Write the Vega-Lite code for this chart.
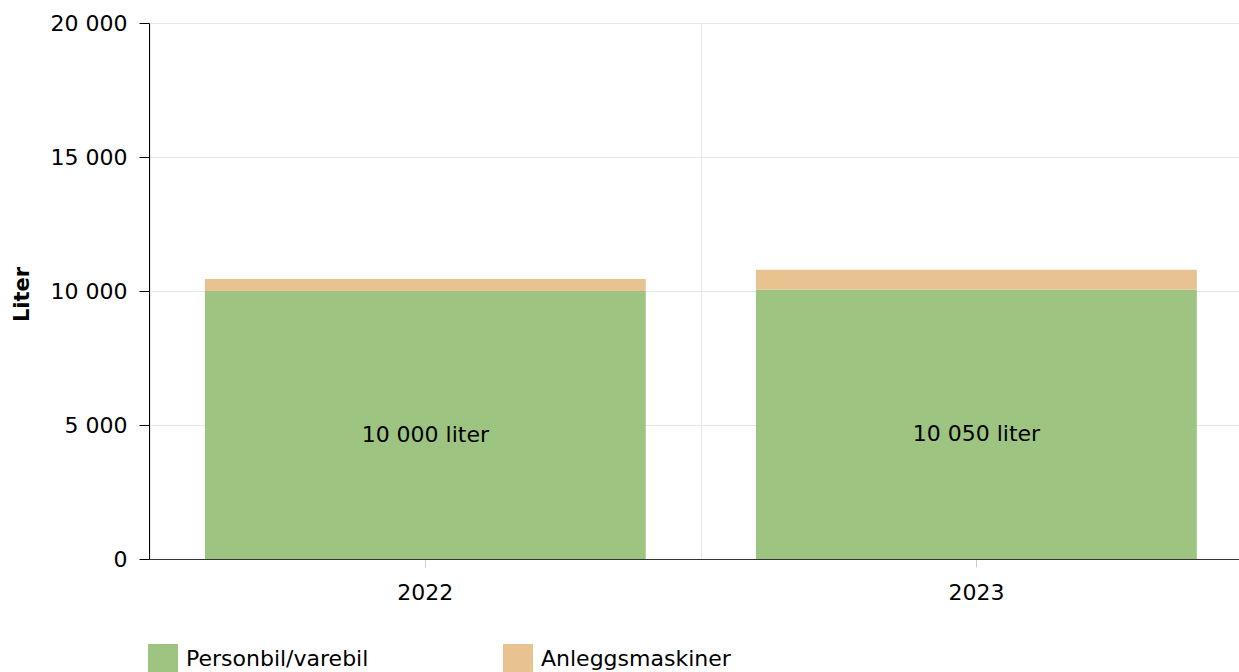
{
  "$schema": "https://vega.github.io/schema/vega-lite/v6.json",
  "width": 1090,
  "height": 536,
  "autosize": {"type": "none"},
  "padding": {"left": 149, "top": 23, "right": 0, "bottom": 113},
  "background": "white",
  "config": {
    "view": {"stroke": null},
    "font": "DejaVu Sans",
    "axis": {"labelFont": "DejaVu Sans", "titleFont": "DejaVu Sans", "labelFontSize": 22, "labelColor": "#000000"}
  },
  "data": {
    "values": [
      {"year": "2022", "category": "Personbil/varebil", "value": 10000},
      {"year": "2022", "category": "Anleggsmaskiner", "value": 450},
      {"year": "2023", "category": "Personbil/varebil", "value": 10050},
      {"year": "2023", "category": "Anleggsmaskiner", "value": 740}
    ]
  },
  "resolve": {"axis": {"x": "independent"}},
  "layer": [
    {
      "mark": {"type": "bar", "opacity": 0.9},
      "encoding": {
        "x": {
          "field": "year", "type": "nominal",
          "scale": {"paddingInner": 0.2, "paddingOuter": 0.089, "align": 0.57},
          "axis": {"title": null, "labelAngle": 0, "grid": false, "domainColor": "#333333", "tickColor": "#cccccc", "tickSize": 8, "labelPadding": 15, "labelFontSize": 22}
        },
        "y": {
          "field": "value", "type": "quantitative", "stack": "zero",
          "scale": {"domain": [0, 20000], "nice": false},
          "axis": {
            "values": [0, 5000, 10000, 15000, 20000],
            "labelExpr": "replace(format(datum.value, ','), ',', ' ')",
            "title": "Liter", "titleFontSize": 21, "titleFontWeight": "bold",
            "titleAngle": 270, "titleX": -127, "titleY": 271, "titleAlign": "center", "titleBaseline": "middle",
            "domainColor": "#000000", "tickColor": "#000000", "tickSize": 10, "labelPadding": 12,
            "gridColor": "#e6e6e6", "labelFontSize": 22
          }
        },
        "color": {
          "field": "category", "type": "nominal",
          "scale": {"domain": ["Personbil/varebil", "Anleggsmaskiner"], "range": ["#92be72", "#e6bd83"]},
          "legend": {
            "title": null, "orient": "none", "legendX": -1, "legendY": 621, "direction": "horizontal",
            "symbolType": "square", "symbolSize": 900, "symbolOpacity": 0.9, "symbolStrokeWidth": 0,
            "labelFontSize": 22, "labelFont": "DejaVu Sans", "labelColor": "#000000", "labelOffset": 8,
            "columnPadding": 134, "labelLimit": 400
          }
        },
        "order": {"field": "category", "sort": "descending"}
      }
    },
    {
      "transform": [
        {"filter": "datum.category === 'Personbil/varebil'"},
        {"calculate": "datum.value / 2", "as": "mid"},
        {"calculate": "replace(format(datum.value, ','), ',', ' ') + ' liter'", "as": "label"}
      ],
      "mark": {"type": "text", "fontSize": 22, "font": "DejaVu Sans", "color": "#000000", "dy": 10},
      "encoding": {
        "x": {
          "field": "year", "type": "nominal",
          "axis": {"orient": "top", "title": null, "labels": false, "ticks": false, "domain": false, "grid": true, "bandPosition": 0, "tickOffset": -55, "gridColor": "#e6e6e6"}
        },
        "y": {"field": "mid", "type": "quantitative"},
        "text": {"field": "label", "type": "nominal"}
      }
    }
  ]
}
